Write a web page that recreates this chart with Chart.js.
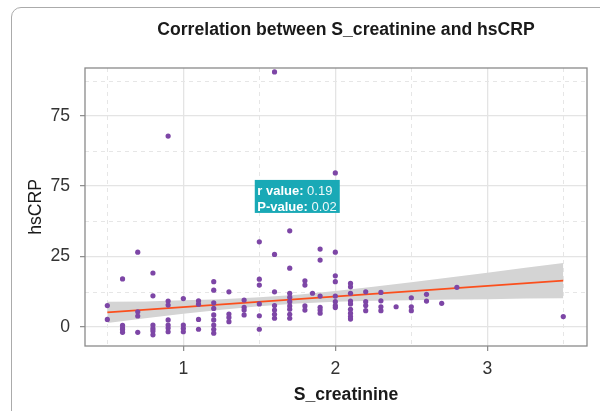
<!DOCTYPE html>
<html>
<head>
<meta charset="utf-8">
<script src="https://cdn.jsdelivr.net/npm/chart.js@4.4.1/dist/chart.umd.min.js"></script>
<style>
  html, body { margin: 0; padding: 0; background: #fff; overflow: hidden; }
  #wrap { position: relative; width: 600px; height: 411px; }
  #frame {
    position: absolute; left: 11px; top: 7px; width: 640px; height: 440px;
    border: 1.5px solid #ababab; border-radius: 10px; box-sizing: border-box;
  }
  #plot { position: absolute; left: 0; top: 0; }
</style>
</head>
<body>
<div id="wrap">
  <div id="frame"></div>
  <canvas id="plot" width="600" height="411"></canvas>
</div>
<script>
// scatter values (S_creatinine, hsCRP)
const sCreatinine = [
  0.5, 0.5,
  0.6, 0.6, 0.6, 0.6, 0.6,
  0.7, 0.7, 0.7, 0.7,
  0.8, 0.8, 0.8, 0.8, 0.8, 0.8,
  0.9, 0.9, 0.9, 0.9, 0.9, 0.9, 0.9,
  1.0, 1.0, 1.0, 1.0,
  1.1, 1.1, 1.1, 1.1,
  1.2, 1.2, 1.2, 1.2, 1.2, 1.2, 1.2, 1.2, 1.2,
  1.3, 1.3, 1.3, 1.3,
  1.4, 1.4, 1.4, 1.4,
  1.5, 1.5, 1.5, 1.5, 1.5, 1.5,
  1.6, 1.6, 1.6, 1.6, 1.6, 1.6, 1.6,
  1.7, 1.7, 1.7, 1.7, 1.7, 1.7, 1.7, 1.7, 1.7,
  1.8, 1.8, 1.8, 1.8,
  1.85,
  1.9, 1.9, 1.9, 1.9, 1.9, 1.9,
  2.0, 2.0, 2.0, 2.0, 2.0, 2.0, 2.0, 2.0,
  2.1, 2.1, 2.1, 2.1, 2.1, 2.1, 2.1, 2.1, 2.1,
  2.2, 2.2, 2.2, 2.2,
  2.3, 2.3, 2.3, 2.3,
  2.4,
  2.5, 2.5, 2.5,
  2.6, 2.6,
  2.7,
  2.8,
  3.5
];
const hsCRP = [
  7.5, 2.6,
  17.0, 0.5, -0.5, -1.0, -2.0,
  26.5, 5.3, 3.8, -2.0,
  19.1, 11.0, 0.6, -0.6, -1.5, -2.9,
  67.8, 9.1, 7.7, 2.4, 0.6, -0.5, -1.8,
  10.0, 0.6, -0.6, -1.8,
  9.2, 8.0, 2.6, -0.9,
  16.0, 13.0, 8.5, 6.5, 4.2, 2.4, 0.6, -0.9, -2.3,
  12.4, 4.5, 3.3, 1.8,
  9.5, 6.9, 5.9, 4.2,
  30.2, 16.9, 14.8, 8.1, 3.9, -0.9,
  90.6, 25.7, 12.4, 7.5, 5.9, 4.4, 3.0,
  34.1, 20.8, 11.9, 10.5, 8.9, 7.4, 6.2, 4.4, 3.0,
  16.3, 14.8, 7.4, 5.9,
  11.9,
  27.6, 23.7, 10.9, 6.9, 5.9, 4.8,
  54.7, 26.5, 18.1, 16.0, 10.9, 8.9, 7.5, 6.8,
  15.4, 14.2, 11.9, 9.1, 8.1, 6.2, 4.8, 3.6, 2.7,
  12.4, 8.9, 7.5, 5.7,
  12.2, 9.2, 7.1, 5.7,
  7.1,
  10.3, 7.1, 5.7,
  11.5, 9.1,
  8.3,
  14.0,
  3.6
];

// fitted line and its confidence band
const fitX = [0.5, 3.5];
const fitY = [5.1, 16.4];
const bandX = [0.5, 0.75, 1.0, 1.25, 1.5, 1.75, 2.0, 2.25, 2.5, 2.75, 3.0, 3.25, 3.5];
const bandUpper = [8.9, 9.0, 9.4, 9.8, 10.5, 11.35, 12.7, 14.2, 15.8, 17.5, 19.2, 21.0, 22.7];
const bandLower = [1.3, 3.0, 4.6, 6.0, 7.3, 8.25, 8.9, 9.2, 9.4, 9.7, 9.8, 10.0, 10.1];

// axes
const xTicks = [1, 2, 3];
const xMinor = [0.5, 1.5, 2.5, 3.5];
const yTicks = [0, 25, 50, 75];
const yTickLabels = ['0', '25', '75', '75'];
const yMinor = [12.5, 37.5, 62.5, 87.5];

const statLines = [['r value:', ' 0.19'], ['P-value:', ' 0.02']];

const FONT = '"Liberation Sans", Arial, sans-serif';

const toXY = (xs, ys) => xs.map((x, i) => ({x: x, y: ys[i]}));

const minorGrid = {
  id: 'minorGrid',
  beforeDatasetsDraw(chart) {
    const {ctx, chartArea: a, scales: {x, y}} = chart;
    ctx.save();
    ctx.strokeStyle = '#e6e6e6';
    ctx.lineWidth = 1;
    ctx.setLineDash([4, 4]);
    xMinor.forEach(v => {
      const px = Math.round(x.getPixelForValue(v)) + 0.5;
      ctx.beginPath(); ctx.moveTo(px, a.top); ctx.lineTo(px, a.bottom); ctx.stroke();
    });
    yMinor.forEach(v => {
      const py = Math.round(y.getPixelForValue(v)) + 0.5;
      ctx.beginPath(); ctx.moveTo(a.left, py); ctx.lineTo(a.right, py); ctx.stroke();
    });
    ctx.restore();
  }
};

const extras = {
  id: 'extras',
  afterDraw(chart) {
    const {ctx, chartArea: a, scales: {x, y}} = chart;
    ctx.save();
    // panel border
    ctx.strokeStyle = '#8a8a8a';
    ctx.lineWidth = 1.3;
    ctx.strokeRect(a.left, a.top, a.right - a.left, a.bottom - a.top);

    // titles (centred a bit right of the panel, like the original)
    const cx = (a.left + a.right) / 2 + 10;
    ctx.fillStyle = '#1a1a1a';
    ctx.textAlign = 'center';
    ctx.textBaseline = 'alphabetic';
    ctx.font = 'bold 17.6px ' + FONT;
    ctx.fillText('Correlation between S_creatinine and hsCRP', cx, 34.5);
    ctx.fillText('S_creatinine', cx, 399.5);

    // r / P label box
    const bx = x.getPixelForValue(1.47);
    const by = y.getPixelForValue(52.2);
    ctx.fillStyle = '#19a9b6';
    ctx.fillRect(bx, by, 85, 33);
    ctx.textAlign = 'left';
    statLines.forEach((ln, i) => {
      const ty = by + 15.5 + i * 16;
      ctx.font = 'bold 13px ' + FONT;
      ctx.fillStyle = '#ffffff';
      ctx.fillText(ln[0], bx + 2.5, ty);
      const w = ctx.measureText(ln[0]).width;
      ctx.font = '13px ' + FONT;
      ctx.fillStyle = '#eef8f9';
      ctx.fillText(ln[1], bx + 2.5 + w, ty);
    });
    ctx.restore();
  }
};

new Chart(document.getElementById('plot').getContext('2d'), {
  type: 'scatter',
  data: {
    datasets: [
      {
        label: 'points',
        data: toXY(sCreatinine, hsCRP),
        backgroundColor: '#7d46a6',
        borderWidth: 0,
        pointRadius: 2.6,
        order: 0
      },
      {
        type: 'line',
        label: 'fit',
        data: toXY(fitX, fitY),
        borderColor: '#fb4f1d',
        borderWidth: 1.7,
        pointRadius: 0,
        fill: false,
        order: 1
      },
      {
        type: 'line',
        label: 'upper',
        data: toXY(bandX, bandUpper),
        borderWidth: 0,
        borderColor: 'rgba(0,0,0,0)',
        backgroundColor: '#d4d4d4',
        pointRadius: 0,
        fill: '+1',
        order: 2
      },
      {
        type: 'line',
        label: 'lower',
        data: toXY(bandX, bandLower),
        borderWidth: 0,
        borderColor: 'rgba(0,0,0,0)',
        pointRadius: 0,
        fill: false,
        order: 3
      }
    ]
  },
  options: {
    responsive: false,
    animation: false,
    devicePixelRatio: 1,
    layout: { padding: { left: 22, top: 68, right: 13, bottom: 0 } },
    plugins: {
      legend: { display: false },
      tooltip: { enabled: false },
      title: { display: false }
    },
    scales: {
      x: {
        type: 'linear',
        min: 0.353,
        max: 3.656,
        afterBuildTicks: s => { s.ticks = xTicks.map(v => ({value: v})); },
        afterFit: s => { s.height = 65; },
        border: { display: false },
        grid: {
          color: '#e4e4e4', lineWidth: 1.3,
          drawTicks: true, tickLength: 5, tickColor: '#8a8a8a', tickWidth: 1.2
        },
        ticks: {
          padding: 8,
          color: '#333',
          font: { family: FONT, size: 17.6 },
          maxRotation: 0,
          callback: v => String(v)
        },
        title: { display: false }
      },
      y: {
        type: 'linear',
        min: -6.86,
        max: 92.0,
        afterBuildTicks: s => { s.ticks = yTicks.map(v => ({value: v})); },
        afterFit: s => { s.width = 63; },
        border: { display: false },
        grid: {
          color: '#e4e4e4', lineWidth: 1.3,
          drawTicks: true, tickLength: 5, tickColor: '#8a8a8a', tickWidth: 1.2
        },
        ticks: {
          padding: 10,
          color: '#333',
          font: { family: FONT, size: 17.6 },
          callback: (v, i) => yTickLabels[i]
        },
        title: {
          display: true,
          text: 'hsCRP',
          color: '#1a1a1a',
          padding: { top: 4, bottom: 4 },
          font: { family: FONT, size: 17.6 }
        }
      }
    }
  },
  plugins: [minorGrid, extras]
});
</script>
</body>
</html>
